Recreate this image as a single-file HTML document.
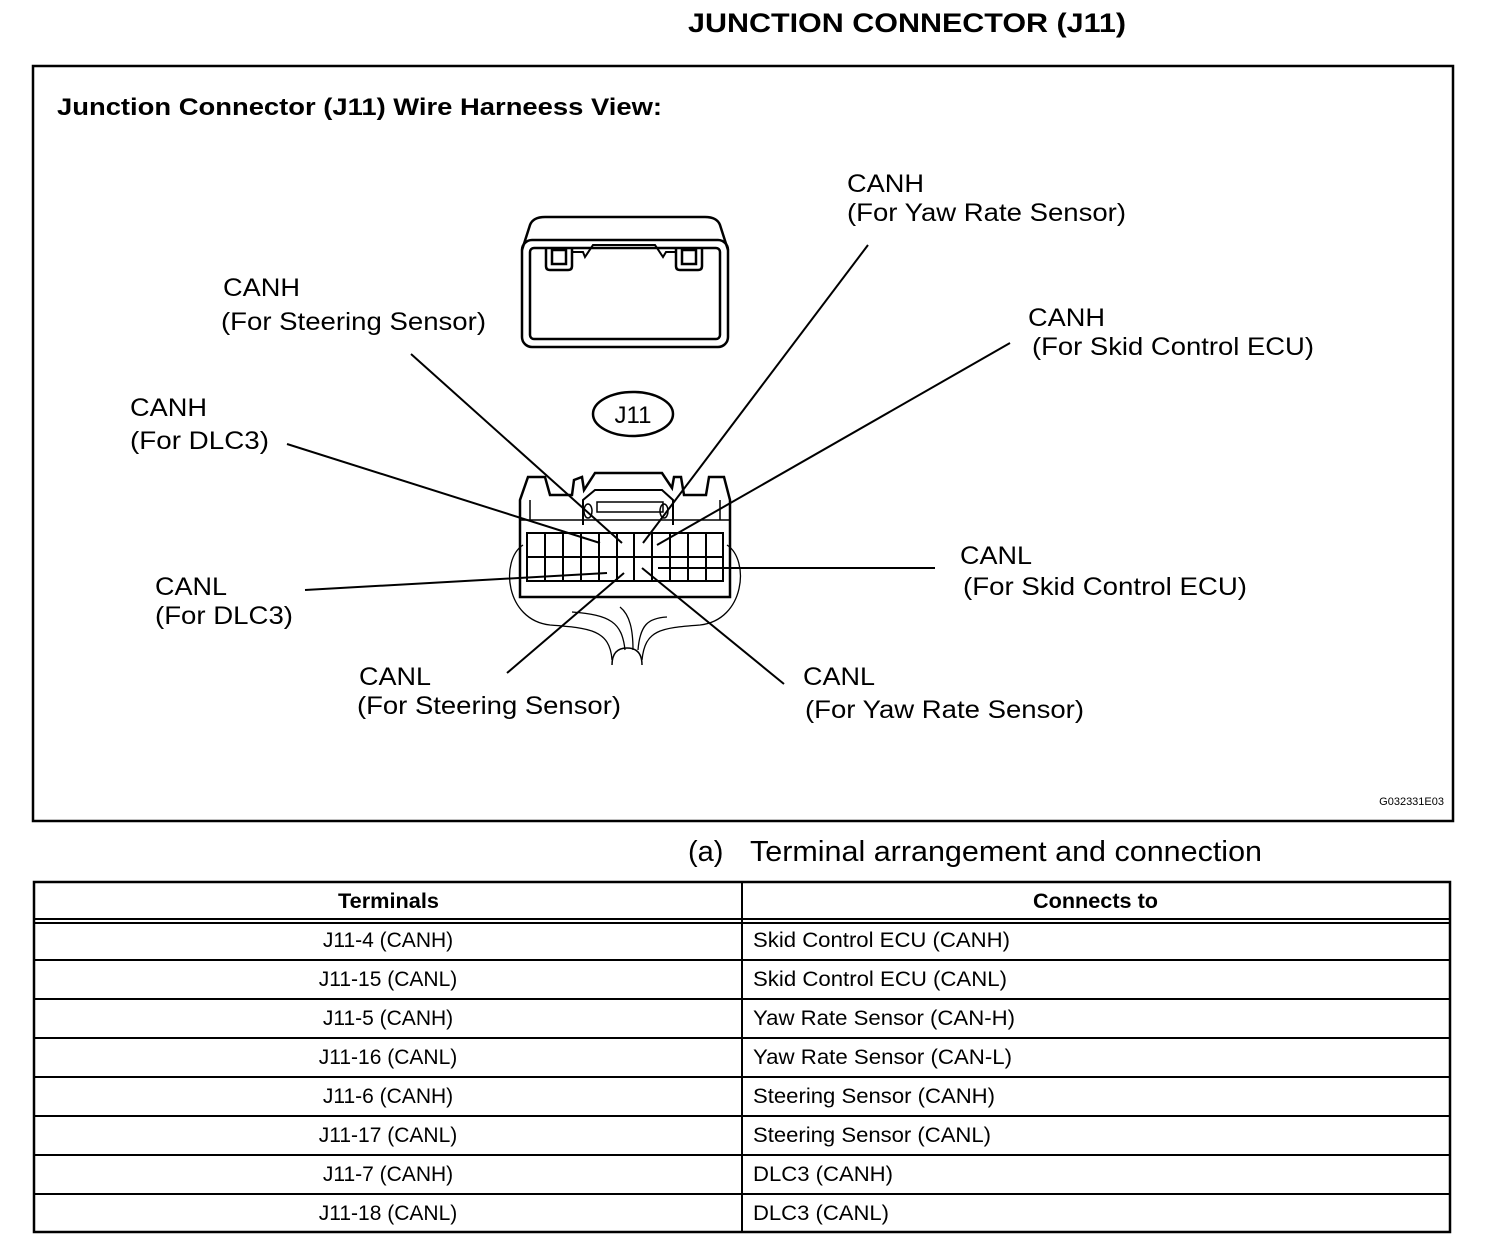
<!DOCTYPE html>
<html><head><meta charset="utf-8"><style>
html,body{margin:0;padding:0;background:#fff}
svg{display:block}
text{font-family:"Liberation Sans",Arial,sans-serif;fill:#000}
</style></head><body>
<svg width="1504" height="1260" viewBox="0 0 1504 1260" xmlns="http://www.w3.org/2000/svg">
<text x="688" y="32" font-size="27" font-weight="bold" textLength="438" lengthAdjust="spacingAndGlyphs">JUNCTION CONNECTOR (J11)</text>
<rect x="33" y="66" width="1420" height="755" fill="none" stroke="#000" stroke-width="2.5"/>
<text x="57" y="115" font-size="24" font-weight="bold" textLength="605" lengthAdjust="spacingAndGlyphs">Junction Connector (J11) Wire Harneess View:</text>

<g fill="none" stroke="#000" stroke-width="2.5">
<path d="M522,250 L530,225 Q533,217 545,217 L705,217 Q717,217 720,225 L728,250"/>
<rect x="522" y="240" width="206" height="107" rx="10"/>
<rect x="530" y="248" width="190" height="91" rx="4"/>
<path d="M546,248 L546,266 Q546,270 550,270 L568,270 Q572,270 572,266 L572,248"/>
<rect x="552" y="250" width="14" height="14"/>
<path d="M676,248 L676,266 Q676,270 680,270 L698,270 Q702,270 702,266 L702,248"/>
<rect x="682" y="250" width="14" height="14"/>
<path d="M572,252 L583,252 L585,257 L593,245 L655,245 L663,257 L666,252 L676,252" stroke-width="2"/>
</g>

<ellipse cx="633" cy="414" rx="40" ry="22" fill="none" stroke="#000" stroke-width="2.5"/>
<text x="633" y="423" font-size="24" text-anchor="middle">J11</text>

<g fill="none" stroke="#000" stroke-width="2.5">
<path d="M520,597 L520,500 L528,477 L545,477 L550,495 L572,495 L574,480 L582,477 L584,490 L595,473 L662,473 L672,488 L674,477 L681,477 L684,495 L706,495 L709,477 L724,477 L730,500 L730,597 Z"/>
<path d="M530,520 L530,500 M720,520 L720,500 M520,520 L730,520" stroke-width="1.5"/>
<path d="M583,525 L583,500 L595,490 L662,490 L673,500 L673,525" stroke-width="2"/>
<rect x="597" y="502" width="66" height="10" stroke-width="1.5"/>
<ellipse cx="588" cy="511" rx="4" ry="7" stroke-width="1.5"/>
<ellipse cx="664" cy="511" rx="4" ry="7" stroke-width="1.5"/>
<rect x="527" y="533" width="196" height="48" stroke-width="2"/>
<path d="M527,557 L723,557 M545,533 V581 M563,533 V581 M581,533 V581 M599,533 V581 M617,533 V581 M634,533 V581 M652,533 V581 M670,533 V581 M688,533 V581 M706,533 V581" stroke-width="2"/>
<path d="M523,545 C500,560 505,620 550,625 C590,628 610,630 612,660" stroke-width="1.3"/>
<path d="M727,545 C750,560 745,620 700,625 C660,628 645,630 642,660" stroke-width="1.3"/>
<path d="M572,612 C610,615 622,622 625,650" stroke-width="1.3"/>
<path d="M620,607 C630,615 633,630 633,650" stroke-width="1.3"/>
<path d="M667,617 C648,618 640,625 638,650" stroke-width="1.3"/>
<path d="M612,665 Q612,648 627,648 Q642,648 642,665" stroke-width="1.5"/>
</g>

<g stroke="#000" stroke-width="2">
<line x1="411" y1="354" x2="622" y2="543"/>
<line x1="868" y1="245" x2="643" y2="543"/>
<line x1="1010" y1="343" x2="657" y2="545"/>
<line x1="287" y1="444" x2="600" y2="543"/>
<line x1="305" y1="590" x2="607" y2="573"/>
<line x1="658" y1="568" x2="935" y2="568"/>
<line x1="507" y1="673" x2="624" y2="573"/>
<line x1="784" y1="684" x2="642" y2="568"/>
</g>

<g font-size="25" lengthAdjust="spacingAndGlyphs">
<text x="847" y="192" textLength="77" lengthAdjust="spacingAndGlyphs">CANH</text><text x="847" y="221" textLength="279" lengthAdjust="spacingAndGlyphs">(For Yaw Rate Sensor)</text>
<text x="223" y="296" textLength="77" lengthAdjust="spacingAndGlyphs">CANH</text><text x="221" y="330" textLength="265" lengthAdjust="spacingAndGlyphs">(For Steering Sensor)</text>
<text x="1028" y="326" textLength="77" lengthAdjust="spacingAndGlyphs">CANH</text><text x="1032" y="355" textLength="282" lengthAdjust="spacingAndGlyphs">(For Skid Control ECU)</text>
<text x="130" y="416" textLength="77" lengthAdjust="spacingAndGlyphs">CANH</text><text x="130" y="449" textLength="139" lengthAdjust="spacingAndGlyphs">(For DLC3)</text>
<text x="960" y="564" textLength="72" lengthAdjust="spacingAndGlyphs">CANL</text><text x="963" y="595" textLength="284" lengthAdjust="spacingAndGlyphs">(For Skid Control ECU)</text>
<text x="155" y="595" textLength="72" lengthAdjust="spacingAndGlyphs">CANL</text><text x="155" y="624" textLength="138" lengthAdjust="spacingAndGlyphs">(For DLC3)</text>
<text x="359" y="685" textLength="72" lengthAdjust="spacingAndGlyphs">CANL</text><text x="357" y="714" textLength="264" lengthAdjust="spacingAndGlyphs">(For Steering Sensor)</text>
<text x="803" y="685" textLength="72" lengthAdjust="spacingAndGlyphs">CANL</text><text x="805" y="718" textLength="279" lengthAdjust="spacingAndGlyphs">(For Yaw Rate Sensor)</text>
</g>
<text x="1444" y="805" font-size="11" text-anchor="end">G032331E03</text>

<text x="688" y="861" font-size="29">(a)</text>
<text x="750" y="861" font-size="29" textLength="512" lengthAdjust="spacingAndGlyphs">Terminal arrangement and connection</text>

<g fill="none" stroke="#000">
<rect x="34" y="882" width="1416" height="350" stroke-width="2.5"/>
<line x1="742" y1="882" x2="742" y2="1232" stroke-width="2"/>
<line x1="34" y1="919" x2="1450" y2="919" stroke-width="2"/>
<line x1="34" y1="923" x2="1450" y2="923" stroke-width="2"/>
<path d="M34,960H1450M34,999H1450M34,1038H1450M34,1077H1450M34,1116H1450M34,1155H1450M34,1194H1450" stroke-width="2"/>
</g>
<g font-size="21">
<text x="338" y="908" font-weight="bold" textLength="101" lengthAdjust="spacingAndGlyphs">Terminals</text>
<text x="1033" y="908" font-weight="bold" textLength="125" lengthAdjust="spacingAndGlyphs">Connects to</text>
<g text-anchor="middle">
<text x="388" y="947">J11-4 (CANH)</text>
<text x="388" y="986">J11-15 (CANL)</text>
<text x="388" y="1025">J11-5 (CANH)</text>
<text x="388" y="1064">J11-16 (CANL)</text>
<text x="388" y="1103">J11-6 (CANH)</text>
<text x="388" y="1142">J11-17 (CANL)</text>
<text x="388" y="1181">J11-7 (CANH)</text>
<text x="388" y="1220">J11-18 (CANL)</text>
</g>
<text x="753" y="947" textLength="257" lengthAdjust="spacingAndGlyphs">Skid Control ECU (CANH)</text>
<text x="753" y="986" textLength="254" lengthAdjust="spacingAndGlyphs">Skid Control ECU (CANL)</text>
<text x="753" y="1025" textLength="262" lengthAdjust="spacingAndGlyphs">Yaw Rate Sensor (CAN-H)</text>
<text x="753" y="1064" textLength="259" lengthAdjust="spacingAndGlyphs">Yaw Rate Sensor (CAN-L)</text>
<text x="753" y="1103" textLength="242" lengthAdjust="spacingAndGlyphs">Steering Sensor (CANH)</text>
<text x="753" y="1142" textLength="238" lengthAdjust="spacingAndGlyphs">Steering Sensor (CANL)</text>
<text x="753" y="1181" textLength="140" lengthAdjust="spacingAndGlyphs">DLC3 (CANH)</text>
<text x="753" y="1220" textLength="136" lengthAdjust="spacingAndGlyphs">DLC3 (CANL)</text>
</g>
</svg>
</body></html>
